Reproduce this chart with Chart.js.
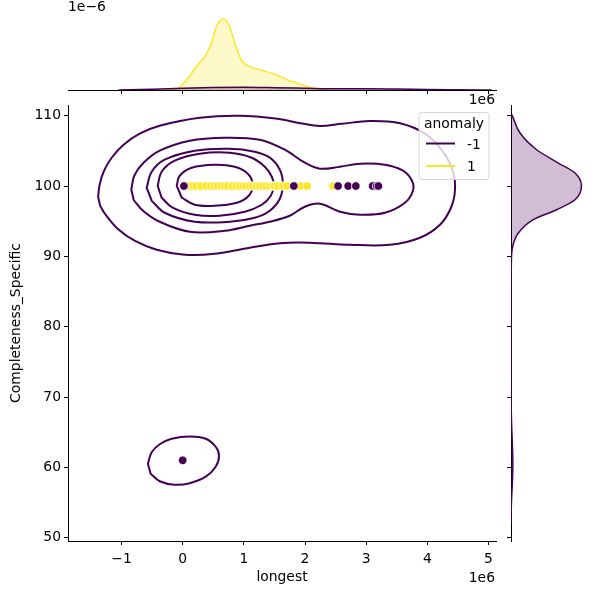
<!DOCTYPE html>
<html>
<head>
<meta charset="utf-8">
<script src="https://cdn.jsdelivr.net/npm/chart.js@4.4.0/dist/chart.umd.min.js"></script>
<style>
  html, body { margin: 0; padding: 0; background: #fff; }
  #wrap { position: relative; width: 600px; height: 600px; }
  #wrap canvas { position: absolute; left: 0; top: 0; }
</style>
</head>
<body>
<div id="wrap">
  <canvas id="joint" width="600" height="600"></canvas>
  <canvas id="margX" width="600" height="600"></canvas>
  <canvas id="margY" width="600" height="600"></canvas>
</div>
<script>
// "longest" is kept in units of 1e6 (the axis shows the 1e6 offset)
const xTicks = [-1, 0, 1, 2, 3, 4, 5];
const yTicks = [50, 60, 70, 80, 90, 100, 110];

// scatter points, anomaly = 1
const normalLongest = [0.115, 0.17, 0.224, 0.30, 0.388, 0.46, 0.524, 0.58, 0.633, 0.69, 0.741, 0.81, 0.879, 0.93,
  0.987, 1.04, 1.097, 1.15, 1.206, 1.26, 1.314, 1.37, 1.424, 1.47, 1.506, 1.56, 1.642, 1.707, 1.926, 2.034, 2.46];
const normalCompleteness = normalLongest.map(() => 100);

// scatter points, anomaly = -1
const anomalyLongest = [0.02, 1.817, 2.54, 2.705, 2.83, 3.105, 3.17, 3.20, 0.0];
const anomalyCompleteness = [100, 100, 100, 100, 100, 100, 100, 100, 61];

// KDE contour lines of anomaly = -1, closed loops of [longest, completeness]
const contour1 = [[-1.383, 98.48], [-1.358, 100.18], [-1.293, 102.03], [-1.162, 104.02], [-0.966, 105.87], [-0.704, 107.44],
  [-0.376, 108.57], [0.278, 109.70], [0.933, 109.99], [1.550, 109.55], [1.950, 108.90], [2.242, 108.55], [2.600, 108.85],
  [3.061, 109.24], [3.552, 108.93], [3.961, 107.44], [4.255, 104.88], [4.419, 102.03], [4.452, 99.47], [4.386, 96.91],
  [4.206, 94.50], [3.879, 92.65], [3.388, 91.65], [2.733, 91.65], [2.079, 91.94], [1.588, 91.87], [1.097, 91.23],
  [0.524, 90.37], [0.033, 90.23], [-0.426, 90.94], [-0.786, 92.22], [-1.064, 93.93], [-1.260, 95.92], [-1.350, 97.20]];
const contour2 = [[-0.840, 99.47], [-0.790, 101.50], [-0.640, 103.30], [-0.376, 105.02], [0.115, 106.44], [0.687, 106.87],
  [1.260, 106.58], [1.669, 105.16], [1.997, 103.31], [2.242, 102.46], [2.570, 102.74], [2.897, 103.17], [3.306, 103.03],
  [3.601, 102.18], [3.748, 100.75], [3.764, 99.33], [3.633, 97.62], [3.306, 96.20], [2.897, 95.92], [2.570, 96.35],
  [2.242, 97.48], [1.997, 97.06], [1.751, 95.78], [1.424, 94.93], [1.097, 94.36], [0.687, 93.64], [0.115, 93.50],
  [-0.376, 94.92], [-0.650, 96.49], [-0.800, 98.00]];
const contour3 = [[-0.589, 99.76], [-0.507, 102.03], [-0.295, 103.74], [0.196, 105.02], [0.769, 105.30], [1.178, 104.88],
  [1.424, 104.03], [1.588, 102.32], [1.637, 100.33], [1.588, 98.19], [1.424, 96.49], [1.178, 95.49], [0.769, 94.92],
  [0.196, 94.92], [-0.295, 96.20], [-0.507, 97.91]];
const contour4 = [[-0.409, 100.04], [-0.344, 102.03], [-0.131, 103.60], [0.278, 104.59], [0.769, 104.73], [1.129, 104.02],
  [1.342, 102.74], [1.457, 101.32], [1.489, 100.04], [1.440, 98.62], [1.293, 97.34], [1.015, 96.35], [0.606, 95.78],
  [0.196, 95.92], [-0.164, 96.92], [-0.344, 98.34]];
const contour5 = [[-0.098, 100.04], [-0.049, 101.46], [0.147, 102.60], [0.524, 103.03], [0.851, 102.74], [1.064, 101.75],
  [1.146, 100.18], [1.080, 98.62], [0.884, 97.63], [0.524, 97.20], [0.196, 97.34], [-0.016, 98.34]];
const contour6 = [[-0.568, 60.52], [-0.507, 62.15], [-0.376, 63.29], [-0.180, 64.07], [0.115, 64.40], [0.376, 64.07],
  [0.540, 62.93], [0.594, 61.65], [0.540, 60.09], [0.376, 58.67], [0.115, 57.74], [-0.131, 57.53], [-0.376, 58.03],
  [-0.524, 59.09]];

// marginal densities (top in units of 1e-6)
const margXGrid = [-0.25, -0.103, 0.061, 0.224, 0.36, 0.47, 0.551, 0.66, 0.769, 0.851, 0.96, 1.097, 1.314, 1.534, 1.751, 1.969, 2.188, 2.35];
const margXNormal = [0, 0.008, 0.112, 0.261, 0.373, 0.523, 0.709, 0.795, 0.709, 0.523, 0.336, 0.261, 0.216, 0.168, 0.104, 0.056, 0.008, 0];
const margXAnomGrid = [-1.05, -0.5, 0, 0.5, 1.0, 1.5, 2.0, 2.5, 3.0, 3.5, 4.0, 4.5, 5.05];
const margXAnomaly = [0, 0.008, 0.02, 0.028, 0.03, 0.026, 0.02, 0.014, 0.014, 0.011, 0.006, 0.003, 0];
const margYGrid = [110.3, 110.14, 107.54, 105.16, 103.27, 101.85, 100.04, 98.05, 96.63, 95.21, 93.32, 91.41, 89.5, 85, 75, 67, 63, 60.6, 58, 55, 52.1];
const margYAnomaly = [0, 0.0005, 0.0064, 0.0182, 0.0336, 0.0454, 0.050, 0.0454, 0.0324, 0.0158, 0.0052, 0.0012, 0.0003, 0.0001, 0, 0.0003, 0.0010, 0.0013, 0.0010, 0.0003, 0];

const PURPLE = '#440154';
const YELLOW = '#fde725';
const X_MIN = -1.875, X_MAX = 5.122;
const Y_MIN = 49.53, Y_MAX = 111.52;

Chart.defaults.font.family = 'DejaVu Sans';
const font = { family: 'DejaVu Sans', size: 13.9 };
const fmt = v => (v < 0 ? '\u2212' + Math.abs(v) : String(v));
const toPoints = (xs, ys) => xs.map((x, i) => ({ x: x, y: ys[i] }));
const toPairs = arr => arr.map(p => ({ x: p[0], y: p[1] }));

function contourSet(arr) {
  return { data: toPairs(arr), closed: true, showLine: true, pointRadius: 0, borderColor: PURPLE, borderWidth: 2, tension: 0.36, fill: false };
}

// let the line element treat contour datasets as closed loops (smooth joint)
const closeLoops = {
  id: 'closeLoops',
  beforeDatasetsDraw(chart) {
    chart.data.datasets.forEach((ds, i) => {
      if (!ds.closed) return;
      const line = chart.getDatasetMeta(i).dataset;
      line._loop = true;
      line._fullLoop = true;
      delete line._segments;
      delete line._path;
      line._pointsUpdated = false;
    });
  }
};

const legendPlugin = {
  id: 'hueLegend',
  afterDraw(chart) {
    const ctx = chart.ctx;
    ctx.save();
    ctx.beginPath();
    ctx.roundRect(419, 112.5, 70, 67, 3);
    ctx.fillStyle = 'rgba(255,255,255,0.8)';
    ctx.fill();
    ctx.strokeStyle = '#d6d6d6';
    ctx.lineWidth = 1;
    ctx.stroke();

    ctx.font = '13.9px "DejaVu Sans"';
    ctx.fillStyle = '#000';
    ctx.textBaseline = 'middle';
    ctx.textAlign = 'center';
    ctx.fillText('anomaly', 454, 124.5);
    ctx.textAlign = 'left';
    ctx.lineWidth = 2;
    ctx.strokeStyle = PURPLE;
    ctx.beginPath(); ctx.moveTo(426, 143.5); ctx.lineTo(455, 143.5); ctx.stroke();
    ctx.fillText('-1', 467, 145);
    ctx.strokeStyle = YELLOW;
    ctx.beginPath(); ctx.moveTo(426, 166); ctx.lineTo(455, 166); ctx.stroke();
    ctx.fillText('1', 467, 167);

    ctx.textAlign = 'right';
    ctx.fillText('1e6', 495, 100);
    ctx.fillText('1e6', 495, 578);
    ctx.restore();
  }
};

new Chart(document.getElementById('joint'), {
  type: 'scatter',
  data: {
    datasets: [
      { data: toPoints(anomalyLongest, anomalyCompleteness), backgroundColor: PURPLE, borderColor: '#fff', borderWidth: 0.8, pointRadius: 4.3 },
      { data: toPoints(normalLongest, normalCompleteness), backgroundColor: YELLOW, borderColor: '#fff', borderWidth: 0.8, pointRadius: 4.3 },
      contourSet(contour1), contourSet(contour2), contourSet(contour3),
      contourSet(contour4), contourSet(contour5), contourSet(contour6)
    ]
  },
  options: {
    responsive: false,
    animation: false,
    layout: { padding: { left: 0, top: 105, right: 104, bottom: 0 } },
    plugins: { legend: { display: false }, tooltip: { enabled: false } },
    scales: {
      x: {
        type: 'linear', min: X_MIN, max: X_MAX,
        afterFit: s => { s.height = 59; },
        afterBuildTicks: s => { s.ticks = xTicks.map(v => ({ value: v })); },
        grid: { drawOnChartArea: false, color: '#000', tickLength: 4, tickWidth: 1 },
        border: { color: '#000', width: 1 },
        ticks: { color: '#000', font: font, padding: 6, maxRotation: 0, autoSkip: false, callback: v => fmt(v) },
        title: { display: true, text: 'longest', color: '#000', font: font, padding: { top: 0, bottom: 14 } }
      },
      y: {
        type: 'linear', min: Y_MIN, max: Y_MAX,
        afterFit: s => { s.width = 68; },
        afterBuildTicks: s => { s.ticks = yTicks.map(v => ({ value: v })); },
        grid: { drawOnChartArea: false, color: '#000', tickLength: 4, tickWidth: 1 },
        border: { color: '#000', width: 1 },
        ticks: { color: '#000', font: font, padding: 3, autoSkip: false, callback: v => fmt(v) },
        title: { display: true, text: 'Completeness_Specific', color: '#000', font: font, padding: { top: 8, bottom: 0 } }
      }
    }
  },
  plugins: [closeLoops, legendPlugin]
});

// top marginal: density of longest
new Chart(document.getElementById('margX'), {
  type: 'scatter',
  data: {
    datasets: [
      { data: toPoints(margXAnomGrid, margXAnomaly), showLine: true, pointRadius: 0, borderColor: PURPLE, borderWidth: 1.5,
        backgroundColor: 'rgba(68,1,84,0.25)', fill: 'shape', cubicInterpolationMode: 'monotone' },
      { data: toPoints(margXGrid, margXNormal), showLine: true, pointRadius: 0, borderColor: YELLOW, borderWidth: 1.5,
        backgroundColor: 'rgba(253,231,37,0.25)', fill: 'shape', cubicInterpolationMode: 'monotone' }
    ]
  },
  options: {
    responsive: false,
    animation: false,
    layout: { padding: { left: 68, top: 15, right: 104, bottom: 0 } },
    plugins: { legend: { display: false }, tooltip: { enabled: false } },
    scales: {
      x: {
        type: 'linear', min: X_MIN, max: X_MAX,
        afterFit: s => { s.height = 510; },
        afterBuildTicks: s => { s.ticks = xTicks.map(v => ({ value: v })); },
        grid: { drawOnChartArea: false, color: '#000', tickLength: 4, tickWidth: 1 },
        border: { color: '#000', width: 1 },
        ticks: { display: false }
      },
      y: { type: 'linear', display: false, min: 0, max: 0.84 }
    }
  },
  plugins: [{
    id: 'offsetText',
    afterDraw(chart) {
      const ctx = chart.ctx;
      ctx.save();
      ctx.font = '13.9px "DejaVu Sans"';
      ctx.fillStyle = '#000';
      ctx.textBaseline = 'middle';
      ctx.textAlign = 'left';
      ctx.fillText('1e\u22126', 68, 7);
      ctx.restore();
    }
  }]
});

// right marginal: density of Completeness_Specific
new Chart(document.getElementById('margY'), {
  type: 'scatter',
  data: {
    datasets: [
      { data: toPoints(margYAnomaly, margYGrid), showLine: true, pointRadius: 0, borderColor: PURPLE, borderWidth: 1.5,
        backgroundColor: 'rgba(68,1,84,0.25)', fill: 'shape', cubicInterpolationMode: 'monotone' }
    ]
  },
  options: {
    responsive: false,
    animation: false,
    indexAxis: 'y',
    layout: { padding: { left: 0, top: 105, right: 15, bottom: 59 } },
    plugins: { legend: { display: false }, tooltip: { enabled: false } },
    scales: {
      y: {
        type: 'linear', min: Y_MIN, max: Y_MAX,
        afterFit: s => { s.width = 511; },
        afterBuildTicks: s => { s.ticks = yTicks.map(v => ({ value: v })); },
        grid: { drawOnChartArea: false, color: '#000', tickLength: 4, tickWidth: 1 },
        border: { color: '#000', width: 1 },
        ticks: { display: false }
      },
      x: { type: 'linear', display: false, min: 0, max: 0.0525 }
    }
  }
});
</script>
</body>
</html>
